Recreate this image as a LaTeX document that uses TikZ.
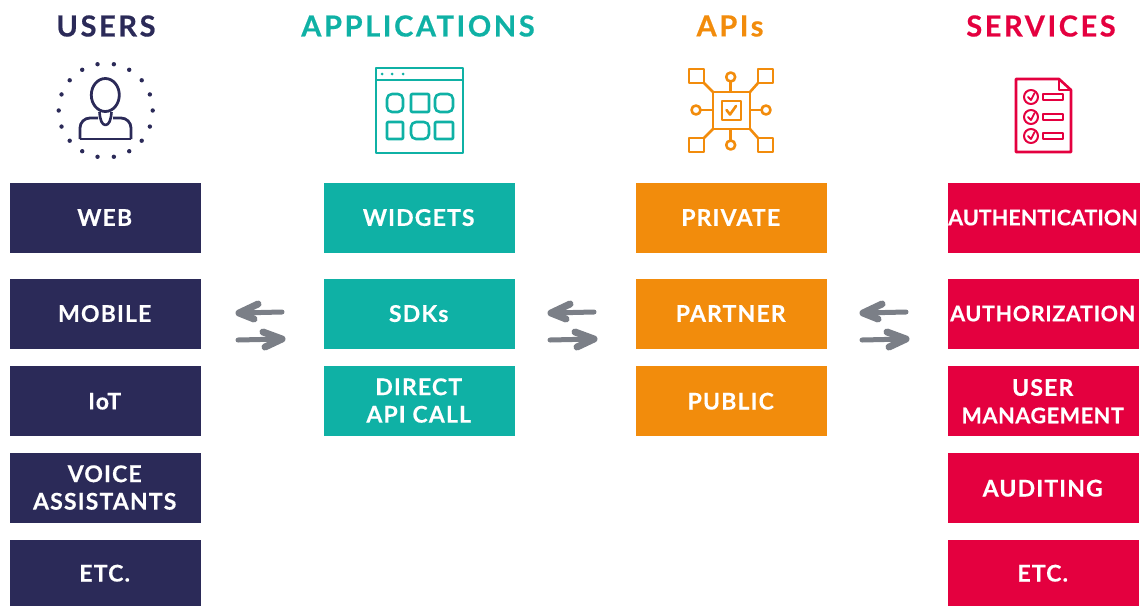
\documentclass[tikz,border=0pt]{standalone}
\usepackage{fontspec}
\setmainfont{Lato}[BoldFont=* Bold]
\newfontfamily\boxfont{Lato Bold}[LetterSpace=5,FakeBold=0.4]
\newfontfamily\redfont{Lato Bold}[LetterSpace=3,FakeBold=0.4]
\newfontfamily\tightfont{Lato Bold}[LetterSpace=0.2,FakeBold=0.4]
\newfontfamily\headfont{Lato Bold}[LetterSpace=9,FakeBold=0.5]
\newcommand{\rs}[1]{{\fontsize{21.5}{27.5}\selectfont\redfont #1}}
\newcommand{\rt}[1]{{\fontsize{21.5}{27.5}\selectfont\tightfont #1}}
\newcommand{\up}[1]{\raisebox{1.5pt}{\hbox{#1\kern2pt}}}
\newcommand{\lv}[1]{\hbox{#1\kern2pt}}
\definecolor{navy}{HTML}{2B2A58}
\definecolor{teal2}{HTML}{0FB1A5}
\definecolor{orange2}{HTML}{F28C0C}
\definecolor{red2}{HTML}{E4003F}
\definecolor{arrowgray}{HTML}{7B7F87}
\tikzset{
  x=1pt,y=-1pt,
  cell/.style={minimum width=191pt,minimum height=70pt,inner sep=0pt,text=white,align=center,anchor=north west,
    font=\fontsize{23}{27.5}\selectfont\boxfont},
  heading/.style={font=\fontsize{29}{30}\selectfont\headfont,anchor=center,inner sep=0pt},
  shaft/.style={draw=arrowgray,line width=5pt,line cap=round,line join=round},
  barb/.style={draw=arrowgray,line width=7pt,line cap=round,line join=round},
  ico/.style={line width=2.6pt,line join=round}
}
\newcommand{\exchange}[2]{%
  \begin{scope}[shift={(#1,#2)}]
    \coordinate (#1a) at (239,313); \coordinate (#1b) at (282,312);
    \coordinate (#1c) at (238,340); \coordinate (#1d) at (282,339);
    \draw[shaft] (#1b) -- (#1a);
    \draw[barb] (258,304) -- (#1a) -- (254,319);
    \draw[shaft] (#1c) -- (#1d);
    \draw[barb] (263,332) -- (#1d) -- (265,347);
  \end{scope}}
\begin{document}
\begin{tikzpicture}
\useasboundingbox (0,0) rectangle (1142,606);
% headings
\node[heading,text=navy] (hu) at (106,26) {USERS};
\node[heading,text=teal2] (ha) at (418,26) {APPLICATIONS};
\node[heading,text=orange2] (hp) at (730,26) {APIs};
\node[heading,text=red2] (hs) at (1041,26) {SERVICES};
% users column
\node[cell,fill=navy] (u1) at (10,183) {\up{WEB}};
\node[cell,fill=navy] (u2) at (10,279) {\up{MOBILE}};
\node[cell,fill=navy] (u3) at (10,366) {\lv{IoT}};
\node[cell,fill=navy] (u4) at (10,453) {\up{VOICE}\\\up{ASSISTANTS}};
\node[cell,fill=navy,minimum height=66pt] (u5) at (10,540) {\lv{ETC.}};
% applications
\node[cell,fill=teal2] (a1) at (324,183) {\up{WIDGETS}};
\node[cell,fill=teal2] (a2) at (324,279) {\up{SDKs}};
\node[cell,fill=teal2] (a3) at (324,366) {\up{DIRECT}\\\up{API CALL}};
% apis
\node[cell,fill=orange2] (p1) at (636,183) {\up{PRIVATE}};
\node[cell,fill=orange2] (p2) at (636,279) {\up{PARTNER}};
\node[cell,fill=orange2] (p3) at (636,366) {\lv{PUBLIC}};
% services
\node[cell,fill=red2] (s1) at (948,183) {\up{\rt{AUTHENTICATION}}};
\node[cell,fill=red2] (s2) at (948,279) {\up{\rs{AUTHORIZATION}}};
\node[cell,fill=red2] (s3) at (948,366) {\lv{USER}\\\lv{\rs{MANAGEMENT}}};
\node[cell,fill=red2] (s4) at (948,453) {\lv{AUDITING}};
\node[cell,fill=red2,minimum height=66pt] (s5) at (948,540) {\lv{ETC.}};
% exchange arrows
\exchange{0}{0}
\exchange{312}{0}
\exchange{624}{0}
% user icon
\begin{scope}[navy]
  \foreach \a in {0,20,...,340} \fill ({105.7+47*cos(\a)},{110.5+47*sin(\a)}) circle (2.2pt);
  \draw[ico,line width=2.8pt] (105.3,95) ellipse (14 and 16.5);
  \draw[ico,line width=2.8pt,rounded corners=10pt] (98,118) -- (80,118) -- (80,139);
  \draw[ico,line width=2.8pt,rounded corners=10pt] (113,118) -- (131,118) -- (131,139);
  \draw[ico,line width=2.8pt] (80,139) -- (131,139);
  \draw[ico] (99.5,112) .. controls (100,120) and (102,125) .. (105.5,125) .. controls (109,125) and (111,120) .. (111.5,112);
\end{scope}
% application icon
\begin{scope}[teal2]
  \draw[ico] (376,68) rectangle (463,153);
  \draw[ico] (376,80) -- (463,80);
  \foreach \x in {382,392,403} \fill (\x,74) circle (1.5pt);
  \draw[ico,rounded corners=5pt] (387,94) rectangle (403,112);
  \draw[ico,rounded corners=1pt] (411,94) rectangle (429,112);
  \draw[ico,rounded corners=5pt] (435,94) rectangle (453,112);
  \draw[ico,rounded corners=1pt] (387,122) rectangle (403,139);
  \draw[ico,rounded corners=5pt] (411,122) rectangle (429,139);
  \draw[ico,rounded corners=1pt] (435,122) rectangle (453,139);
\end{scope}
% api icon
\begin{scope}[orange2]
  \draw[ico] (713,92) rectangle (750,129);
  \draw[ico] (722,101) rectangle (741,120);
  \draw[ico,line cap=round] (726.5,110) -- (730,114.5) -- (736,106);
  \draw[ico] (689,69) rectangle (704,83);
  \draw[ico] (758,69) rectangle (773,83);
  \draw[ico] (689,138) rectangle (704,152);
  \draw[ico] (758,138) rectangle (773,152);
  \draw[ico] (704,83) -- (713,92) (758,83) -- (750,92) (704,138) -- (713,129) (758,138) -- (750,129);
  \draw[ico] (730.7,77) circle (4.5);
  \draw[ico] (730.7,145) circle (4.5);
  \draw[ico] (696,110) circle (4.5);
  \draw[ico] (766,110) circle (4.5);
  \draw[ico] (730.7,81.5) -- (730.7,92) (730.7,129) -- (730.7,140.5) (700.5,110) -- (713,110) (750,110) -- (761.5,110);
\end{scope}
% services icon
\begin{scope}[red2]
  \draw[ico] (1059,79) -- (1016,79) -- (1016,152) -- (1071,152) -- (1071,90) -- cycle;
  \draw[ico] (1059,79) -- (1059,90) -- (1071,90);
  \foreach \y in {97,117,136} {
    \draw[ico,line width=2pt] (1031,\y) circle (7);
    \draw[ico,line width=1.8pt,line cap=round] (1028,\y) -- (1031,\y+3) -- (1034.5,\y-4);
    \draw[ico,line width=2pt] (1043,\y-3) rectangle (1063,\y+3);
  }
\end{scope}
\end{tikzpicture}
\end{document}
